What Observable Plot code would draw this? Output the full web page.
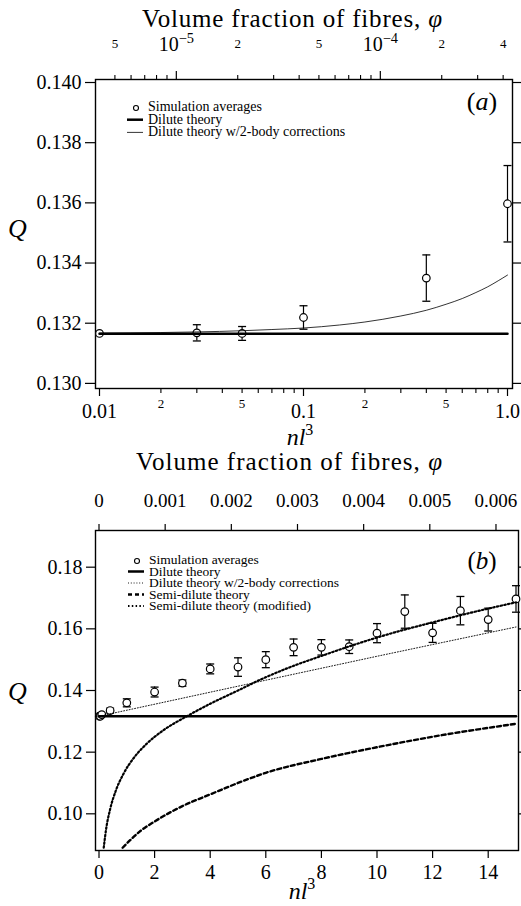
<!DOCTYPE html>
<html>
<head>
<meta charset="utf-8">
<script src="https://cdn.jsdelivr.net/npm/d3@7"></script>
<script src="https://cdn.jsdelivr.net/npm/@observablehq/plot@0.6"></script>
<style>
  body { margin: 0; background: #fff; }
  #fig { position: relative; width: 521px; height: 906px; font-family: "Liberation Serif", "Times New Roman", serif; }
  #fig > svg { position: absolute; left: 0; }
</style>
</head>
<body>
<div id="fig"></div>
<script>
// ---------- Panel (a): dilute range, log axis ----------
const simA_nl3 = [0.01, 0.03, 0.05, 0.1, 0.4, 1.0];
const simA_Q   = [0.13166, 0.13168, 0.13166, 0.13219, 0.1335, 0.13597];
const simA_err = [0, 0.00027, 0.00023, 0.00039, 0.00077, 0.00127];

const diluteQ = 0.13165;
const diluteRangeA = [0.01, 1.0];

const twoBodyA_nl3 = [0.01, 0.02, 0.03, 0.05, 0.07, 0.1, 0.15, 0.2, 0.3, 0.4, 0.5, 0.6, 0.7, 0.8, 0.9, 1.0];
const twoBodyA_Q   = [0.13167, 0.13169, 0.13171, 0.13175, 0.13179, 0.13184, 0.13194, 0.13204,
                      0.13224, 0.13243, 0.13263, 0.13282, 0.13302, 0.13321, 0.13341, 0.1336];

const qTicksA = [0.130, 0.132, 0.134, 0.136, 0.138, 0.140];
const nlMajorTicks = [0.01, 0.1, 1];
const nlMajorLabels = ["0.01", "0.1", "1.0"];
const nlSubTicks = [0.02, 0.05, 0.2, 0.5];
const nlSubLabels = ["2", "5", "2", "5"];
const nlMinorTicks = [0.03, 0.04, 0.06, 0.07, 0.08, 0.09, 0.3, 0.4, 0.6, 0.7, 0.8, 0.9];

// volume fraction axis (phi = nl^3 / nl3PerPhi)
const nl3PerPhi = 2380;
const phiMajorA = [1e-5, 1e-4];
const phiMajorLabelsA = ["10^\u22125", "10^\u22124"];
const phiSubA = [5e-6, 2e-5, 5e-5, 2e-4, 4e-4];
const phiSubLabelsA = ["5", "2", "5", "2", "4"];
const phiMinorA = [6e-6, 7e-6, 8e-6, 9e-6, 3e-5, 4e-5, 6e-5, 7e-5, 8e-5, 9e-5, 3e-4];

// ---------- Panel (b): full range, linear axis ----------
const simB_nl3 = [0.01, 0.03, 0.05, 0.1, 0.4, 1, 2, 3, 4, 5, 6, 7, 8, 9, 10, 11, 12, 13, 14, 15];
const simB_Q   = [0.13166, 0.13168, 0.13166, 0.13219, 0.1335, 0.1360, 0.1395, 0.1424, 0.1470, 0.1476,
                  0.1500, 0.1540, 0.1540, 0.1542, 0.1586, 0.1656, 0.1587, 0.1659, 0.1630, 0.1697];
const simB_err = [0, 0.00027, 0.00023, 0.00039, 0.00077, 0.0013, 0.0016, 0.0010, 0.0016, 0.0030,
                  0.0026, 0.0027, 0.0025, 0.0022, 0.0031, 0.0054, 0.0031, 0.0046, 0.0037, 0.0043];

const diluteRangeB = [0, 15];
const twoBodyB_nl3 = [0, 5, 10, 15];
const twoBodyB_Q   = [0.13165, 0.1414, 0.1511, 0.1606];

const semiB_nl3 = [0.85, 1.5, 2, 3, 4, 5, 6, 8, 10, 12, 15];
const semiB_Q   = [0.0890, 0.0945, 0.0975, 0.1025, 0.1063, 0.1100, 0.1133, 0.1178, 0.1216, 0.1250, 0.1292];

const semiModB_nl3 = [0.17, 0.25, 0.4, 0.6, 0.9, 1.25, 1.7, 2.3, 3.17, 4, 5, 5.8, 7, 8, 9, 10.5, 12, 13.5, 15];
const semiModB_Q   = [0.0890, 0.0947, 0.1015, 0.1074, 0.1133, 0.1181, 0.1226, 0.1270, 0.1317, 0.1357,
                      0.1400, 0.1435, 0.1480, 0.1512, 0.1543, 0.1585, 0.1621, 0.1655, 0.1686];

const qTicksB = [0.10, 0.12, 0.14, 0.16, 0.18];
const nlTicksB = [0, 2, 4, 6, 8, 10, 12, 14];
const phiTicksB = [0, 0.001, 0.002, 0.003, 0.004, 0.005, 0.006];
const phiLabelsB = ["0", "0.001", "0.002", "0.003", "0.004", "0.005", "0.006"];

// ---------- helpers ----------
const rows = (xs, ys, es) => xs.map((x, i) => ({nl3: x, Q: ys[i], err: es ? es[i] : 0}));
const capSymbol = {draw(ctx) { ctx.moveTo(-4, 0); ctx.lineTo(4, 0); }};
const ink = "black";

function errorMarks(data) {
  const withErr = data.filter(d => d.err > 0);
  return [
    Plot.ruleX(withErr, {x: "nl3", y1: d => d.Q - d.err, y2: d => d.Q + d.err, stroke: ink, strokeWidth: 1.2}),
    Plot.dot(withErr, {x: "nl3", y: d => d.Q + d.err, symbol: capSymbol, stroke: ink, fill: "none", strokeWidth: 1.3}),
    Plot.dot(withErr, {x: "nl3", y: d => d.Q - d.err, symbol: capSymbol, stroke: ink, fill: "none", strokeWidth: 1.3}),
    Plot.dot(data, {x: "nl3", y: "Q", r: 3.8, stroke: ink, fill: "white", strokeWidth: 1.2})
  ];
}

// split "base^exp" tick labels into a raised exponent
function superscripts(svg) {
  d3.select(svg).selectAll("text").each(function () {
    const t = this.textContent;
    const k = t.indexOf("^");
    if (k < 0) return;
    const sel = d3.select(this);
    sel.text(null);
    sel.append("tspan").text(t.slice(0, k));
    sel.append("tspan").attr("dy", "-0.5em").attr("font-size", "0.72em").text(t.slice(k + 1));
  });
}

const baseStyle = {fontFamily: "'Liberation Serif', 'Times New Roman', serif", color: ink, background: "transparent", overflow: "visible"};

// ---------- Panel (a) ----------
const simA = rows(simA_nl3, simA_Q, simA_err);
const twoBodyA = rows(twoBodyA_nl3, twoBodyA_Q);

const plotA = Plot.plot({
  width: 521, height: 450,
  marginTop: 79, marginRight: 9, marginBottom: 62, marginLeft: 95,
  style: baseStyle,
  x: {type: "log", domain: [0.009559, 1.058], label: null},
  y: {domain: [0.12983, 0.1401], label: null},
  marks: [
    Plot.frame({stroke: ink, strokeWidth: 1.4}),
    // left / right Q ticks
    Plot.axisY(qTicksA, {anchor: "left", tickSize: 10, tickPadding: 4, fontSize: 20, strokeWidth: 1.2, tickFormat: d3.format(".3f"), label: null}),
    Plot.axisY(qTicksA, {anchor: "right", tickSize: 8, strokeWidth: 1.2, fill: "none", label: null}),
    // bottom nl^3 ticks
    Plot.axisX(nlMajorTicks, {anchor: "bottom", tickSize: 8, strokeWidth: 1.2, fill: "none", label: null}),
    Plot.axisX(nlSubTicks.concat(nlMinorTicks), {anchor: "bottom", tickSize: 5, strokeWidth: 1.1, fill: "none", label: null}),
    Plot.text(nlMajorTicks, {x: d => d, text: (d, i) => nlMajorLabels[i], frameAnchor: "bottom", lineAnchor: "bottom", dy: 29, fontSize: 20}),
    Plot.text(nlSubTicks, {x: d => d, text: (d, i) => nlSubLabels[i], frameAnchor: "bottom", lineAnchor: "bottom", dy: 19, fontSize: 13}),
    // top volume-fraction ticks
    Plot.axisX(phiMajorA.map(p => p * nl3PerPhi), {anchor: "top", tickSize: 9, strokeWidth: 1.2, fill: "none", label: null}),
    Plot.axisX(phiSubA.concat(phiMinorA).map(p => p * nl3PerPhi), {anchor: "top", tickSize: 5, strokeWidth: 1.1, fill: "none", label: null}),
    Plot.text(phiMajorA, {x: d => d * nl3PerPhi, text: (d, i) => phiMajorLabelsA[i], frameAnchor: "top", lineAnchor: "bottom", dy: -29, fontSize: 20}),
    Plot.text(phiSubA, {x: d => d * nl3PerPhi, text: (d, i) => phiSubLabelsA[i], frameAnchor: "top", lineAnchor: "bottom", dy: -32, fontSize: 13}),
    // simulations
    ...errorMarks(simA),
    // theory
    Plot.line(diluteRangeA, {x: d => d, y: () => diluteQ, stroke: ink, strokeWidth: 2.5}),
    Plot.line(twoBodyA, {x: "nl3", y: "Q", stroke: ink, strokeWidth: 0.8, curve: "monotone-x"})
  ]
});
superscripts(plotA);
plotA.style.top = "0px";

// ---------- Panel (b) ----------
const simB = rows(simB_nl3, simB_Q, simB_err);
const twoBodyB = rows(twoBodyB_nl3, twoBodyB_Q);
const semiB = rows(semiB_nl3, semiB_Q);
const semiModB = rows(semiModB_nl3, semiModB_Q);

const plotB = Plot.plot({
  width: 521, height: 456,
  marginTop: 80, marginRight: 3, marginBottom: 56, marginLeft: 95,
  style: baseStyle,
  x: {domain: [-0.126, 15.09], label: null},
  y: {domain: [0.0881, 0.1919], label: null},
  marks: [
    Plot.frame({stroke: ink, strokeWidth: 1.4}),
    Plot.axisY(qTicksB, {anchor: "left", tickSize: 9, tickPadding: 4, fontSize: 20, strokeWidth: 1.2, tickFormat: d3.format(".2f"), label: null}),
    Plot.axisY(qTicksB, {anchor: "right", tickSize: 8, strokeWidth: 1.2, fill: "none", label: null}),
    Plot.axisX(nlTicksB, {anchor: "bottom", tickSize: 8, strokeWidth: 1.2, fill: "none", label: null}),
    Plot.text(nlTicksB, {x: d => d, text: d => String(d), frameAnchor: "bottom", lineAnchor: "bottom", dy: 28, fontSize: 20}),
    Plot.axisX(phiTicksB.map(p => p * nl3PerPhi), {anchor: "top", tickSize: 7, strokeWidth: 1.2, fill: "none", label: null}),
    Plot.text(phiTicksB, {x: d => d * nl3PerPhi, text: (d, i) => phiLabelsB[i], frameAnchor: "top", lineAnchor: "bottom", dy: -24, fontSize: 19}),
    ...errorMarks(simB),
    Plot.line(diluteRangeB, {x: d => d, y: () => diluteQ, stroke: ink, strokeWidth: 2.5}),
    Plot.line(twoBodyB, {x: "nl3", y: "Q", stroke: ink, strokeWidth: 0.9, strokeDasharray: "1,1.8"}),
    Plot.line(semiB, {x: "nl3", y: "Q", stroke: ink, strokeWidth: 2.4, strokeDasharray: "4,3", curve: "monotone-x", clip: true}),
    Plot.line(semiModB, {x: "nl3", y: "Q", stroke: ink, strokeWidth: 2.2, strokeDasharray: "1.5,2.3", curve: "monotone-x", clip: true})
  ]
});
plotB.style.top = "450px";

const fig = document.getElementById("fig");
fig.append(plotA, plotB);

// ---------- titles, axis names, panel tags and keys ----------
const ov = d3.select(fig).append("svg")
  .attr("width", 521).attr("height", 906)
  .style("top", "0px").style("pointer-events", "none")
  .attr("font-family", "'Liberation Serif', 'Times New Roman', serif")
  .attr("fill", ink);

function phiTitle(x, y, len) {
  const t = ov.append("text").attr("x", x).attr("y", y).attr("font-size", 25)
    .attr("textLength", len).attr("lengthAdjust", "spacing");
  t.append("tspan").text("Volume fraction of fibres, ");
  t.append("tspan").attr("font-style", "italic").text("\u03c6");
}
function qLabel(x, y) {
  ov.append("text").attr("x", x).attr("y", y).attr("font-size", 26).attr("font-style", "italic").text("Q");
}
function nlLabel(cx, y) {
  const t = ov.append("text").attr("x", cx).attr("y", y).attr("font-size", 24).attr("text-anchor", "middle");
  t.append("tspan").attr("font-style", "italic").text("nl");
  t.append("tspan").attr("font-size", 16).attr("dy", -10).text("3");
}
function panelTag(cx, y, size, letter) {
  const t = ov.append("text").attr("x", cx).attr("y", y).attr("font-size", size).attr("text-anchor", "middle");
  t.append("tspan").text("(");
  t.append("tspan").attr("font-style", "italic").text(letter);
  t.append("tspan").text(")");
}
function key(entries, x0, y0, step, size) {
  entries.forEach((e, i) => {
    const y = y0 + i * step;
    if (e.kind === "dot") {
      ov.append("circle").attr("cx", x0 + 9).attr("cy", y - 3).attr("r", 2.5)
        .attr("fill", "none").attr("stroke", ink).attr("stroke-width", 1.1);
    } else {
      ov.append("line").attr("x1", x0).attr("x2", x0 + 16).attr("y1", y - 4).attr("y2", y - 4)
        .attr("stroke", ink).attr("stroke-width", e.width).attr("stroke-dasharray", e.dash || null);
    }
    ov.append("text").attr("x", x0 + 21).attr("y", y).attr("font-size", size).text(e.label);
  });
}

phiTitle(142, 27, 300);
qLabel(8, 237);
nlLabel(300, 445);
panelTag(482, 110, 26, "a");
key([
  {kind: "dot", label: "Simulation averages"},
  {kind: "line", width: 2.5, label: "Dilute theory"},
  {kind: "line", width: 0.8, label: "Dilute theory w/2-body corrections"}
], 127, 111, 12.7, 14);

phiTitle(136, 470, 306);
qLabel(8, 700);
nlLabel(302, 899);
panelTag(482, 569, 25, "b");
key([
  {kind: "dot", label: "Simulation averages"},
  {kind: "line", width: 2.5, label: "Dilute theory"},
  {kind: "line", width: 0.9, dash: "1,1.8", label: "Dilute theory w/2-body corrections"},
  {kind: "line", width: 2.4, dash: "4,3", label: "Semi-dilute theory"},
  {kind: "line", width: 2.2, dash: "1.5,2.3", label: "Semi-dilute theory (modified)"}
], 128, 564, 11.5, 13.5);
</script>
</body>
</html>
